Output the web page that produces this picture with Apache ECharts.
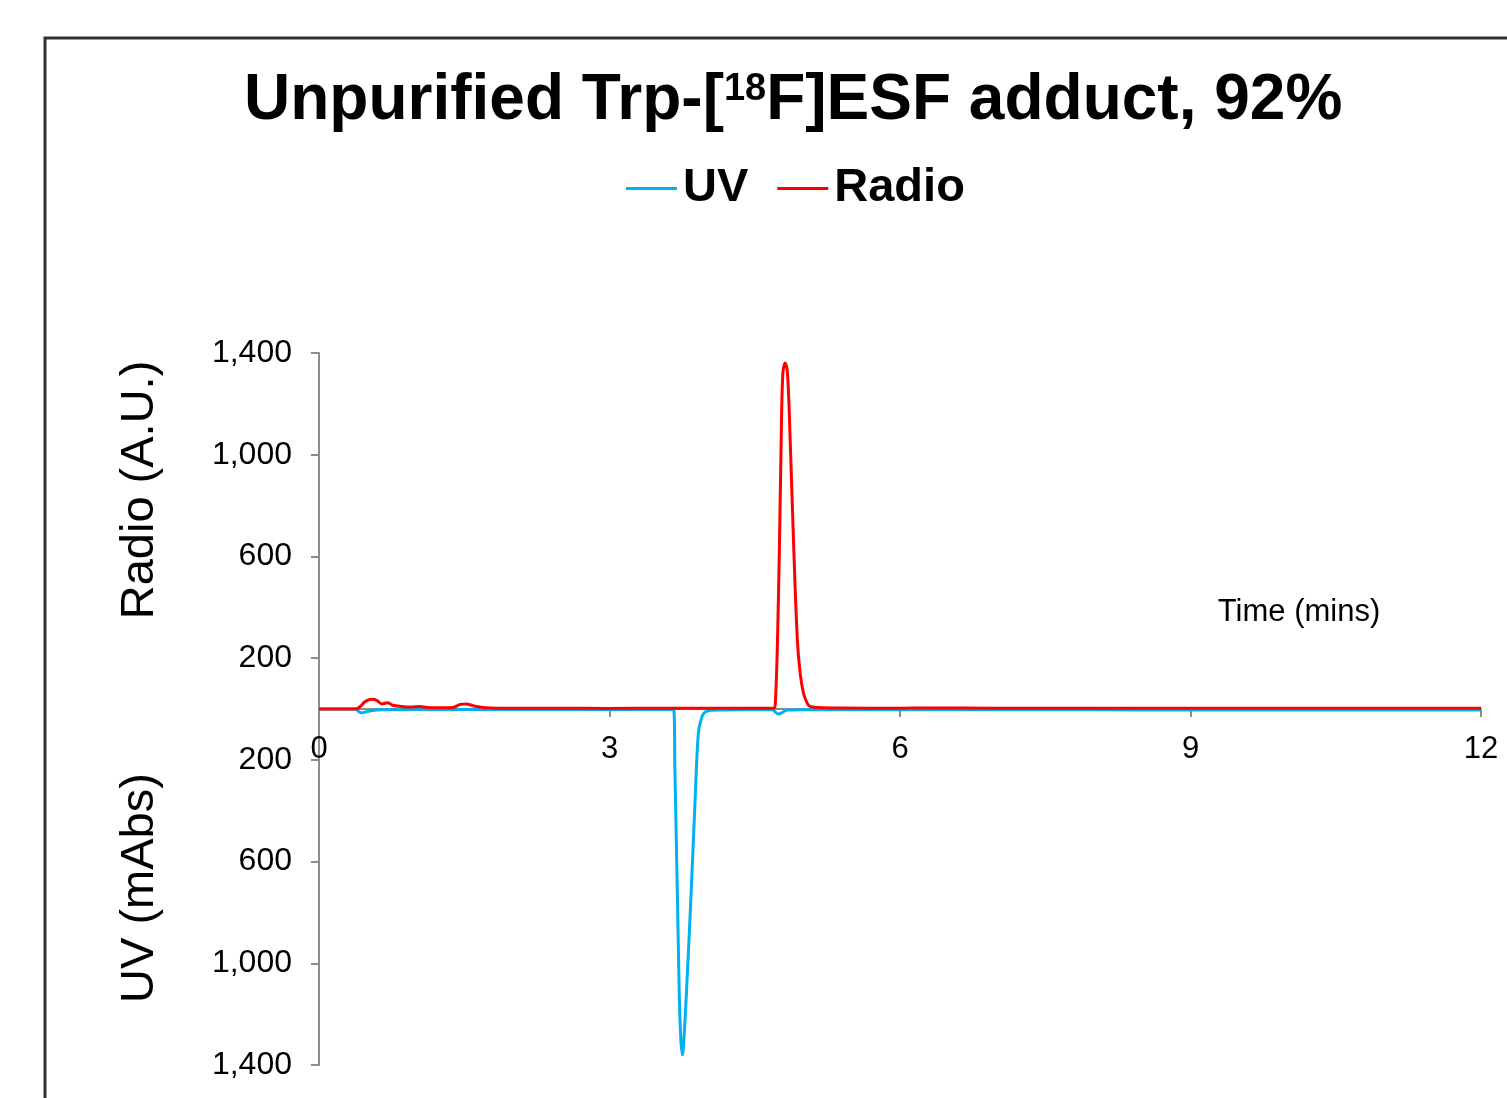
<!DOCTYPE html>
<html>
<head>
<meta charset="utf-8">
<script src="https://cdn.jsdelivr.net/npm/echarts@6/dist/echarts.min.js"></script>
<style>
  html, body { margin: 0; padding: 0; background: #fff; }
  #chart { width: 1507px; height: 1098px; }
</style>
</head>
<body>
<div id="chart"></div>
<script>
// time in minutes, signal values (UV plotted downward as negative)
var uvTime = [0, 0.38, 0.41, 0.44, 0.48, 0.55, 0.65, 1.0, 2.0, 3.0, 3.6, 3.665, 3.675, 3.702, 3.722, 3.737, 3.753, 3.768, 3.791, 3.84, 3.884, 3.918, 3.954, 3.988, 4.05, 4.2, 4.5, 4.68, 4.72, 4.75, 4.79, 4.84, 5.0, 6.0, 7, 8, 9, 10, 11, 12];
var uvValue = [0, 0, -10, -15, -12, -6, -3, -2, -2, -2, -2, -5, -228, -750, -1143, -1300, -1360, -1300, -1143, -750, -358, -94, -31, -12, -5, -4, -3, -3, -15, -20, -12, -4, -3, -3, -3, -3, -4, -4, -4, -4];

var radioTime = [0, 0.38, 0.42, 0.48, 0.55, 0.60, 0.65, 0.71, 0.76, 0.85, 0.95, 1.04, 1.12, 1.25, 1.38, 1.46, 1.52, 1.60, 1.72, 2.0, 2.5, 3.0, 3.5, 4.0, 4.5, 4.70, 4.715, 4.735, 4.756, 4.773, 4.79, 4.814, 4.838, 4.866, 4.90, 4.94, 4.969, 5.003, 5.04, 5.07, 5.15, 5.4, 6.0, 6.3, 7, 8, 9, 10, 11, 12];
var radioValue = [0, 0, 8, 30, 38, 33, 20, 25, 15, 10, 8, 10, 6, 5, 6, 18, 20, 12, 5, 3, 3, 2, 3, 3, 3, 3, 40, 271, 664, 1057, 1320, 1361, 1320, 1057, 664, 271, 141, 63, 24, 10, 6, 4, 3, 4, 3, 3, 3, 3, 3, 3];

var xTicks = [0, 12, 3];          // min, max, interval
var yTicks = [-1400, 1400, 400];  // min, max, interval

function pairs(xs, ys) {
  return xs.map(function (x, i) { return [x, ys[i]]; });
}

var chart = echarts.init(document.getElementById('chart'));
var axisGray = '#8c8c8c';
var font = '"Liberation Sans", Arial, sans-serif';

var option = {
  backgroundColor: '#fff',
  animation: false,
  textStyle: { fontFamily: font },
  title: {
    text: '{a|Unpurified Trp-[}{s|18}{a|F]ESF adduct, 92%}',
    left: 239,
    top: 60,
    textStyle: {
      rich: {
        a: { fontSize: 64, fontWeight: 'bold', color: '#000', fontFamily: font, lineHeight: 72 },
        s: { fontSize: 38, fontWeight: 'bold', color: '#000', fontFamily: font, lineHeight: 38, verticalAlign: 'top', padding: [6, 0, 16, 0] }
      }
    }
  },
  legend: {
    top: 160,
    left: 621,
    icon: 'rect',
    itemWidth: 51,
    itemHeight: 3,
    itemGap: 29,
    textStyle: { fontSize: 47, fontWeight: 'bold', color: '#000', fontFamily: font, padding: [0, 0, 0, 1] },
    data: ['UV', 'Radio']
  },
  grid: { left: 319, right: 26, top: 353, bottom: 33, containLabel: false, outerBoundsMode: 'none' },
  xAxis: {
    type: 'value',
    min: xTicks[0], max: xTicks[1], interval: xTicks[2],
    position: 'bottom',
    offset: -356,
    axisLine: { onZero: false, lineStyle: { color: axisGray, width: 2 } },
    axisTick: { show: true, inside: false, length: 8, lineStyle: { color: axisGray, width: 2 } },
    axisLabel: { fontSize: 31, color: '#000', margin: 25, fontFamily: font },
    splitLine: { show: false }
  },
  yAxis: {
    type: 'value',
    min: yTicks[0], max: yTicks[1], interval: yTicks[2],
    axisLine: { show: true, lineStyle: { color: axisGray, width: 2 } },
    axisTick: { show: true, inside: false, length: 8, lineStyle: { color: axisGray, width: 2 } },
    axisLabel: {
      fontSize: 32, color: '#000', margin: 27, fontFamily: font,
      formatter: function (v) { return Math.abs(v).toLocaleString('en-US'); }
    },
    splitLine: { show: false }
  },
  graphic: [
    {
      type: 'rect',
      shape: { x: 45, y: 38, width: 1600, height: 1200 },
      style: { fill: 'none', stroke: '#333', lineWidth: 3 },
      silent: true
    },
    {
      type: 'text', x: 140, y: 490, rotation: Math.PI / 2,
      style: { text: 'Radio (A.U.)', font: '47px ' + font, fill: '#000', textAlign: 'center', textVerticalAlign: 'middle' }
    },
    {
      type: 'text', x: 140, y: 888, rotation: Math.PI / 2,
      style: { text: 'UV (mAbs)', font: '47px ' + font, fill: '#000', textAlign: 'center', textVerticalAlign: 'middle' }
    },
    {
      type: 'text', x: 1299, y: 612,
      style: { text: 'Time (mins)', font: '31px ' + font, fill: '#000', textAlign: 'center', textVerticalAlign: 'middle' }
    }
  ],
  series: [
    {
      name: 'UV',
      type: 'line',
      data: pairs(uvTime, uvValue),
      showSymbol: false,
      smooth: 0.35,
      color: '#00b0f0',
      lineStyle: { color: '#00b0f0', width: 3 }
    },
    {
      name: 'Radio',
      type: 'line',
      data: pairs(radioTime, radioValue),
      showSymbol: false,
      smooth: 0.35,
      color: '#ff0000',
      lineStyle: { color: '#ff0000', width: 3 }
    }
  ]
};

chart.setOption(option);
</script>
</body>
</html>
